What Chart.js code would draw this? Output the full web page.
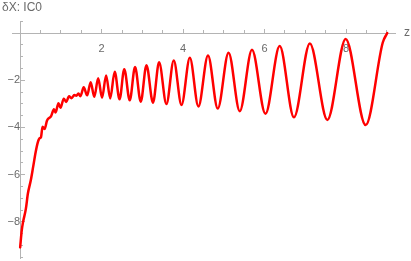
<!DOCTYPE html>
<html>
<head>
<meta charset="utf-8">
<script src="https://cdn.jsdelivr.net/npm/chart.js@4/dist/chart.umd.min.js"></script>
<style>
  html, body { margin: 0; padding: 0; background: #fff; }
  #wrap { width: 411px; height: 261px; }
</style>
</head>
<body>
<div id="wrap"><canvas id="dxChart" width="411" height="261"></canvas></div>
<script>
// values
const zValues = [
  0.00, 0.04, 0.07, 0.14, 0.19, 0.26, 0.32, 0.38, 0.43, 0.48,
  0.51, 0.55, 0.60, 0.66, 0.76, 0.83, 0.87, 0.94, 0.99, 1.07,
  1.13, 1.20, 1.26, 1.33, 1.38, 1.43, 1.48, 1.56, 1.645, 1.73,
  1.82, 1.915, 2.01, 2.11, 2.21, 2.32, 2.44, 2.555, 2.69, 2.82,
  2.96, 3.10, 3.26, 3.41, 3.59, 3.77, 3.96, 4.165, 4.375, 4.61,
  4.85, 5.115, 5.39, 5.69, 6.02, 6.37, 6.72, 7.11, 7.54, 7.99,
  8.48, 8.90, 9.01
];
const dxValues = [
  -9.08, -8.35, -8.02, -7.45, -6.80, -6.25, -5.66, -5.05, -4.65, -4.45,
  -4.42, -3.97, -4.07, -3.70, -3.52, -3.23, -3.37, -2.97, -3.17, -2.78,
  -2.92, -2.68, -2.76, -2.63, -2.66, -2.56, -2.68, -2.30, -2.64, -2.08,
  -2.70, -1.92, -2.74, -1.80, -2.77, -1.64, -2.81, -1.53, -2.85, -1.44,
  -2.91, -1.36, -2.95, -1.24, -3.01, -1.16, -3.05, -1.05, -3.11, -0.95,
  -3.20, -0.83, -3.31, -0.71, -3.42, -0.55, -3.57, -0.44, -3.68, -0.25,
  -3.90, -0.40, 0.00
];
const xTickLabels = [2, 4, 6, 8];
const yTickLabels = [-8, -6, -4, -2];
const plotTitle = '\u03b4X: IC0';
const xAxisTitle = 'z';

const axisGrey = '#b4b4b4';
const labelGrey = '#6a6a6a';
const fontFamily = '"Liberation Sans", Arial, sans-serif';

const points = zValues.map((z, i) => ({ x: z, y: dxValues[i] }));

// the axes cross at the origin, so they should not take any layout room
function flatX(scale) {
  scale.height = 0;
  scale.paddingLeft = 0;
  scale.paddingRight = 0;
}
function flatY(scale) {
  scale.width = 0;
  scale.paddingTop = 0;
  scale.paddingBottom = 0;
}

const axisText = {
  id: 'axisText',
  afterDraw(chart) {
    const { ctx, scales } = chart;
    ctx.save();
    ctx.fillStyle = labelGrey;
    ctx.font = '12px ' + fontFamily;
    ctx.textAlign = 'left';
    ctx.textBaseline = 'middle';
    ctx.fillText(xAxisTitle, scales.x.right + 9, scales.y.getPixelForValue(0));
    ctx.textBaseline = 'alphabetic';
    ctx.fillText(plotTitle, 2, 11);
    ctx.restore();
  }
};

const ctx = document.getElementById('dxChart').getContext('2d');
new Chart(ctx, {
  type: 'line',
  data: {
    datasets: [{
      data: points,
      borderColor: '#ff0000',
      borderWidth: 2.5,
      pointRadius: 0,
      fill: false,
      cubicInterpolationMode: 'monotone',
      borderJoinStyle: 'round',
      borderCapStyle: 'round'
    }]
  },
  plugins: [axisText],
  options: {
    responsive: false,
    animation: false,
    devicePixelRatio: 1,
    layout: { padding: { left: 12, right: 16, top: 21, bottom: 3 } },
    plugins: { legend: { display: false }, tooltip: { enabled: false } },
    scales: {
      x: {
        type: 'linear',
        axis: 'x',
        min: -0.2,
        max: 9.2,
        position: { y: 0 },
        border: { display: true, color: axisGrey, width: 1 },
        grid: { drawOnChartArea: false, tickLength: -5, color: axisGrey },
        ticks: {
          stepSize: 2,
          includeBounds: false,
          autoSkip: false,
          maxRotation: 0,
          padding: 14,
          color: labelGrey,
          font: { family: fontFamily, size: 11 },
          callback: (v) => xTickLabels.includes(v) ? String(v) : null
        },
        afterFit: flatX
      },
      xMinor: {
        type: 'linear',
        axis: 'x',
        min: -0.2,
        max: 9.2,
        position: { y: 0 },
        border: { display: false },
        grid: { drawOnChartArea: false, tickLength: -3, color: axisGrey },
        ticks: {
          stepSize: 0.5,
          includeBounds: false,
          autoSkip: false,
          maxRotation: 0,
          padding: 0,
          callback: (v) => v === 0 ? null : ''
        },
        afterFit: flatX
      },
      y: {
        type: 'linear',
        axis: 'y',
        min: -9.53,
        max: 0.51,
        position: { x: 0 },
        border: { display: true, color: axisGrey, width: 1 },
        grid: { drawOnChartArea: false, tickLength: -5, color: axisGrey },
        ticks: {
          stepSize: 2,
          includeBounds: false,
          autoSkip: false,
          padding: 10,
          color: labelGrey,
          font: { family: fontFamily, size: 11 },
          callback: (v) => yTickLabels.includes(v) ? '\u2212' + Math.abs(v) : null
        },
        afterFit: flatY
      },
      yMinor: {
        type: 'linear',
        axis: 'y',
        min: -9.53,
        max: 0.51,
        position: { x: 0 },
        border: { display: false },
        grid: { drawOnChartArea: false, tickLength: -3, color: axisGrey },
        ticks: {
          stepSize: 0.5,
          includeBounds: false,
          autoSkip: false,
          padding: 0,
          callback: (v) => v === 0 ? null : ''
        },
        afterFit: flatY
      }
    }
  }
});
</script>
</body>
</html>
